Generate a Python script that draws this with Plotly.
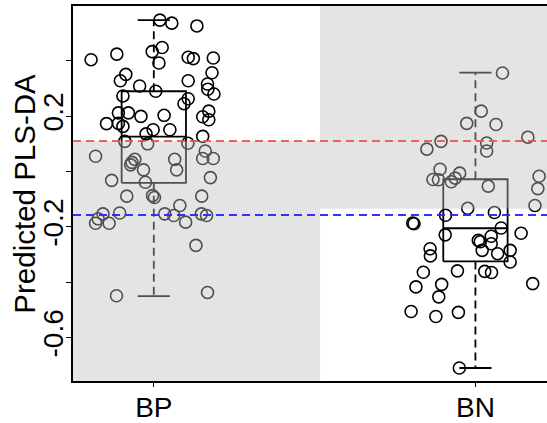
import plotly.graph_objects as go

# ---------------- data ----------------
groups = ["BP", "BN"]
group_pos = [1, 2]

# jitter offsets (x, relative to group position) and predicted values
bp_dx = [0.019, 0.056, 0.134, -0.195, -0.115, -0.005, 0.026, 0.016, 0.107, 0.123,
         0.185, 0.181, -0.087, -0.104, -0.044, 0.006, 0.107, 0.167, 0.168, 0.187,
         -0.096, 0.107, 0.094, -0.110, -0.079, -0.040, 0.032, 0.171, 0.152, 0.171,
         -0.147, -0.110, -0.096, -0.002, -0.024, 0.050, 0.152, -0.090, -0.019, 0.106,
         -0.181, -0.059, -0.068, -0.072, -0.032, 0.065, 0.071, 0.160, 0.152, 0.185,
         0.176, -0.131, -0.026, -0.084, -0.004, 0.002, 0.149, -0.158, -0.173, -0.181,
         -0.139, -0.106, 0.034, 0.062, 0.081, 0.099, 0.148, 0.164, 0.131, -0.116,
         0.167]
bp_y = [0.547, 0.536, 0.526, 0.404, 0.424, 0.433, 0.448, 0.392, 0.413, 0.408,
        0.410, 0.357, 0.351, 0.328, 0.309, 0.290, 0.328, 0.316, 0.297, 0.280,
        0.273, 0.263, 0.245, 0.212, 0.212, 0.199, 0.203, 0.218, 0.198, 0.187,
        0.173, 0.174, 0.163, 0.151, 0.136, 0.151, 0.127, 0.109, 0.100, 0.102,
        0.055, 0.044, 0.033, 0.024, 0.006, 0.044, 0.006, 0.074, 0.047, 0.047,
        -0.022, -0.032, -0.039, -0.089, -0.087, -0.094, -0.089, -0.153, -0.171, -0.187,
        -0.187, -0.150, -0.153, -0.159, -0.123, -0.183, -0.153, -0.159, -0.267, -0.449,
        -0.437]

bn_dx = [0.084, 0.018, -0.027, 0.064, -0.107, -0.151, 0.035, 0.035, 0.163, -0.110,
         -0.132, -0.115, -0.075, -0.063, -0.049, 0.040, 0.198, 0.194, 0.185, -0.024,
         0.059, -0.093, -0.195, -0.191, 0.080, 0.142, -0.094, 0.009, 0.015, 0.049,
         0.049, 0.021, 0.069, 0.108, 0.108, -0.141, -0.140, -0.162, -0.056, 0.029,
         0.050, -0.185, -0.105, -0.114, 0.178, -0.200, -0.123, -0.053, -0.050]
bn_y = [0.356, 0.218, 0.174, 0.170, 0.109, 0.081, 0.103, 0.074, 0.124, 0.008,
        -0.029, -0.030, -0.037, -0.024, -0.006, -0.053, -0.017, -0.062, -0.123, -0.133,
        -0.148, -0.158, -0.186, -0.189, -0.204, -0.223, -0.229, -0.249, -0.254, -0.234,
        -0.261, -0.285, -0.297, -0.285, -0.327, -0.279, -0.305, -0.364, -0.359, -0.361,
        -0.365, -0.417, -0.408, -0.453, -0.405, -0.506, -0.524, -0.509, -0.710]

# box statistics: lower whisker, Q1, median, Q3, upper whisker
bp_stats = [-0.450, -0.041, 0.126, 0.290, 0.547]
bn_stats = [-0.710, -0.325, -0.205, -0.028, 0.357]

red_threshold = 0.110
blue_threshold = -0.157
left_region_top = 0.110
right_region_bottom = -0.135
region_split = 1.517

ytick_vals = [0.4, 0.2, 0.0, -0.2, -0.4, -0.6]
ytick_text = ["", "0.2", "", "-0.2", "", "-0.6"]

# ---------------- figure ----------------
FONT = "Liberation Sans, Arial, Helvetica, sans-serif"
X_RANGE = [0.7488, 2.2225]
Y_RANGE = [-0.757, 0.598]
BOX_HALF = 0.1
CAP_HALF = 0.05

fig = go.Figure()

for pos, stats in zip(group_pos, [bp_stats, bn_stats]):
    lo, q1, med, q3, hi = stats
    fig.add_trace(go.Scatter(
        x=[pos - BOX_HALF, pos + BOX_HALF, pos + BOX_HALF, pos - BOX_HALF, pos - BOX_HALF],
        y=[q1, q1, q3, q3, q1], mode="lines",
        line=dict(color="black", width=1.8), hoverinfo="skip", showlegend=False))
    fig.add_trace(go.Scatter(
        x=[pos - BOX_HALF, pos + BOX_HALF], y=[med, med], mode="lines",
        line=dict(color="black", width=1.8), hoverinfo="skip", showlegend=False))
    fig.add_trace(go.Scatter(
        x=[pos, pos, None, pos, pos], y=[q3, hi, None, q1, lo], mode="lines",
        line=dict(color="black", width=1.8, dash="8px,5px"),
        hoverinfo="skip", showlegend=False))
    fig.add_trace(go.Scatter(
        x=[pos - CAP_HALF, pos + CAP_HALF, None, pos - CAP_HALF, pos + CAP_HALF],
        y=[hi, hi, None, lo, lo], mode="lines",
        line=dict(color="black", width=1.8), hoverinfo="skip", showlegend=False))

for pos, dx, yv, name in zip(group_pos, [bp_dx, bn_dx], [bp_y, bn_y], groups):
    fig.add_trace(go.Scatter(
        x=[pos + d for d in dx], y=yv, mode="markers", name=name,
        marker=dict(symbol="circle-open", size=12, color="black",
                    line=dict(width=1.6, color="black")),
        showlegend=False))

overlay = "rgba(190,190,190,0.42)"
fig.add_shape(type="rect", xref="x", yref="y", x0=X_RANGE[0], x1=region_split,
              y0=Y_RANGE[0], y1=left_region_top, fillcolor=overlay,
              line=dict(width=0), layer="above")
fig.add_shape(type="rect", xref="x", yref="y", x0=region_split, x1=X_RANGE[1],
              y0=right_region_bottom, y1=Y_RANGE[1], fillcolor=overlay,
              line=dict(width=0), layer="above")
fig.add_shape(type="line", xref="paper", yref="y", x0=0, x1=1,
              y0=red_threshold, y1=red_threshold,
              line=dict(color="rgba(238,80,80,0.9)", width=2, dash="8px,5px"),
              layer="above")
fig.add_shape(type="line", xref="paper", yref="y", x0=0, x1=1,
              y0=blue_threshold, y1=blue_threshold,
              line=dict(color="rgba(40,40,255,0.95)", width=2, dash="8px,5px"),
              layer="above")

fig.add_annotation(text="Predicted PLS-DA", xref="paper", yref="paper",
                   x=-0.103, y=0.5, xanchor="center", yanchor="middle",
                   textangle=-90, showarrow=False,
                   font=dict(family=FONT, size=29.5, color="black"))

fig.update_layout(
    width=547, height=423,
    margin=dict(l=73, r=0, t=6, b=40),
    paper_bgcolor="white", plot_bgcolor="white",
    font=dict(family=FONT, size=28, color="black"),
    xaxis=dict(range=X_RANGE, tickvals=group_pos, ticktext=groups,
               showgrid=False, zeroline=False, showline=True, mirror=True,
               linecolor="black", linewidth=1.6, ticks="outside", ticklen=4,
               tickcolor="black", tickwidth=1.2, ticklabelstandoff=-3,
               tickfont=dict(family=FONT, size=28, color="black")),
    yaxis=dict(range=Y_RANGE, tickvals=ytick_vals, ticktext=ytick_text,
               tickangle=-90, showgrid=False, zeroline=False, showline=True,
               linecolor="black", linewidth=1.6, ticks="outside", ticklen=5,
               tickcolor="black", tickwidth=1.2, ticklabelstandoff=-8,
               tickfont=dict(family=FONT, size=28, color="black")),
)

fig.write_html("out.html", config={"displayModeBar": False},
               post_script="document.body.style.margin='0';document.body.style.overflow='hidden';")
